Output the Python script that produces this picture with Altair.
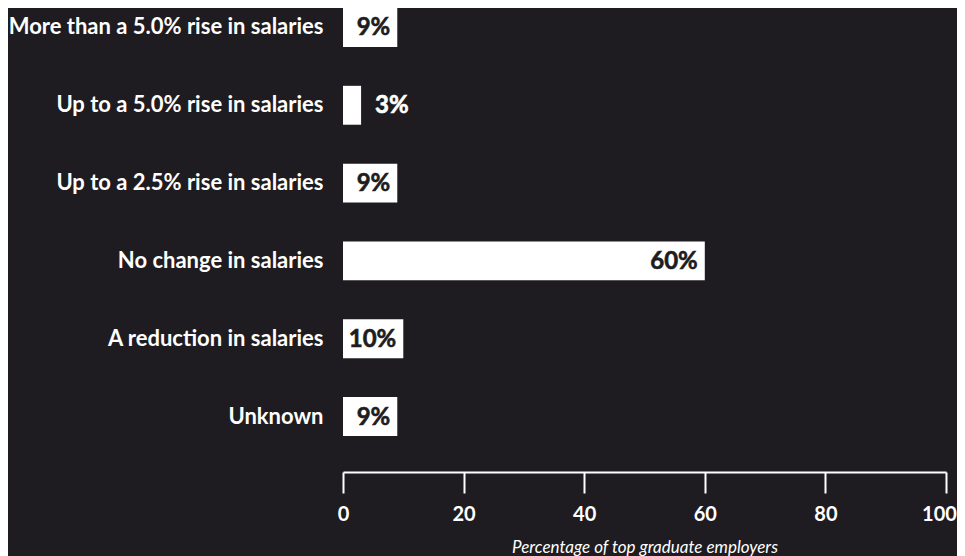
import altair as alt
import pandas as pd

categories = [
    "More than a 5.0% rise in salaries",
    "Up to a 5.0% rise in salaries",
    "Up to a 2.5% rise in salaries",
    "No change in salaries",
    "A reduction in salaries",
    "Unknown",
]
values = [9, 3, 9, 60, 10, 9]
value_labels = ["9%", "3%", "9%", "60%", "10%", "9%"]
x_ticks = [0, 20, 40, 60, 80, 100]

BG = "#1e1c20"
FG = "#ffffff"
FONT = "Lato"

df = pd.DataFrame({"cat": categories, "val": values, "lab": value_labels})

y_enc = alt.Y(
    "cat:N",
    sort=categories,
    scale=alt.Scale(paddingInner=0.5, paddingOuter=0),
    axis=alt.Axis(
        title=None, domain=False, ticks=False, labelPadding=20,
        labelFont=FONT, labelFontSize=22, labelFontWeight="bold",
        labelColor=FG, labelLimit=400,
    ),
)

x_enc = alt.X(
    "val:Q",
    scale=alt.Scale(domain=[0, 100], nice=False),
    axis=alt.Axis(
        values=x_ticks, offset=36, grid=False,
        domainColor=FG, domainWidth=2, tickColor=FG, tickWidth=2, tickSize=21,
        labelFont=FONT, labelFontSize=20, labelFontWeight="bold", labelColor=FG,
        labelPadding=11, labelFlush=False, labelBound=False, labelOverlap=False,
        labelOffset={"condition": {"test": "datum.value === 100", "value": -7}, "value": 0},
        title="Percentage of top graduate employers",
        titleFont=FONT, titleFontSize=17, titleFontStyle="italic",
        titleFontWeight="normal", titleColor=FG, titlePadding=15,
    ),
)

bars = alt.Chart(df).mark_bar(color=FG, cornerRadius=0).encode(x=x_enc, y=y_enc)

inside = alt.Chart(df).transform_filter("datum.val >= 5").mark_text(
    align="right", baseline="middle", dx=-7, dy=1, font=FONT, fontSize=24,
    fontWeight="bold", color=BG, stroke=BG, strokeWidth=0.6,
).encode(x="val:Q", y=alt.Y("cat:N", sort=categories), text="lab:N")

outside = alt.Chart(df).transform_filter("datum.val < 5").mark_text(
    align="left", baseline="middle", dx=14, dy=1, font=FONT, fontSize=24,
    fontWeight="bold", color=FG, stroke=FG, strokeWidth=0.6,
).encode(x="val:Q", y=alt.Y("cat:N", sort=categories), text="lab:N")

chart = alt.layer(bars, inside, outside).properties(
    width=603, height=428,
    background=BG,
    padding={"left": 335, "top": 0, "right": 11, "bottom": 120},
    autosize=alt.AutoSizeParams(type="none"),
).configure_view(stroke=None)

chart.save("out.html", embed_options={"renderer": "svg", "actions": False})
